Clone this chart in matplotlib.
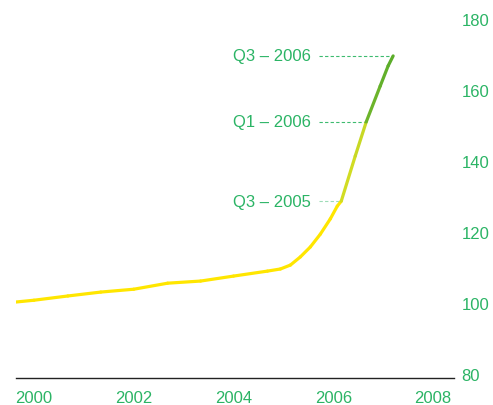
import numpy as np
import matplotlib
matplotlib.use("Agg")
import matplotlib.pyplot as plt
from matplotlib.collections import LineCollection
from matplotlib.colors import to_rgb

plt.rcParams['font.family'] = ['Liberation Sans', 'DejaVu Sans']

# Data
years = [1999.64, 2000.0, 2000.68, 2001.34, 2002.0, 2002.68, 2003.34, 2004.0,
         2004.68, 2004.94, 2005.14, 2005.34, 2005.54, 2005.74, 2005.94, 2006.08,
         2006.16, 2006.44, 2006.66, 2006.94, 2007.10, 2007.20]
values = [100.3, 100.8, 102.0, 103.1, 103.9, 105.6, 106.2, 107.6,
          109.0, 109.6, 110.7, 113.0, 115.8, 119.4, 123.7, 127.3,
          128.7, 141.4, 151.0, 161.1, 166.8, 169.6]
ann_labels = ["Q3 \u2013 2005", "Q1 \u2013 2006", "Q3 \u2013 2006"]
ann_x = [2006.16, 2006.66, 2007.20]
ann_y = [128.7, 151.0, 169.6]
ytick_vals = [80, 100, 120, 140, 160, 180]
xtick_vals = [2000, 2002, 2004, 2006, 2008]

GREEN_TXT = '#2bb465'
W, H = 493, 406
fig = plt.figure(figsize=(W / 100, H / 100), dpi=100)
ax = fig.add_axes([16 / W, 1 - 379 / H, (454 - 16) / W, (379 - 20) / H])
ax.set_xlim(1999.64, 2008.42)
ax.set_ylim(78.9, 180)

# segment colours
x = np.array(years)
y = np.array(values)
yellow = np.array(to_rgb('#ffe600'))
ygreen = np.array(to_rgb('#d6de22'))
ygreen2 = np.array(to_rgb('#c4d624'))
green1 = np.array(to_rgb('#72b72c'))
green2 = np.array(to_rgb('#5aac2a'))
cols = []
for i in range(len(x) - 1):
    xm = (x[i] + x[i + 1]) / 2
    if xm < ann_x[0]:
        cols.append(yellow)
    elif xm < ann_x[1]:
        t = (xm - ann_x[0]) / (ann_x[1] - ann_x[0])
        cols.append(ygreen * (1 - t) + ygreen2 * t)
    else:
        t = (xm - ann_x[1]) / (ann_x[2] - ann_x[1])
        cols.append(green1 * (1 - t) + green2 * t)
segs = np.stack([np.column_stack([x[:-1], y[:-1]]), np.column_stack([x[1:], y[1:]])], axis=1)
lc = LineCollection(segs, colors=cols, linewidths=2.3, capstyle='round', joinstyle='round')
ax.add_collection(lc)

# annotations
dash_start = 2005.71
dash_cols = ['#9edcb7', '#3dbb6f', '#3dbb6f']
for lab, ax_, ay_, dc in zip(ann_labels, ann_x, ann_y, dash_cols):
    ax.plot([dash_start, ax_], [ay_, ay_], color=dc, lw=0.8, dashes=(3, 2), zorder=1)
    ax.text(dash_start - 0.15, ay_, lab, ha='right', va='center', fontsize=12, color=GREEN_TXT)

# axes styling
for s in ['top', 'left', 'right']:
    ax.spines[s].set_visible(False)
ax.spines['bottom'].set_color('#222222')
ax.spines['bottom'].set_linewidth(1.0)
ax.set_xticks(xtick_vals)
ax.set_xticklabels([str(v) for v in xtick_vals])
ax.set_yticks(ytick_vals)
ax.set_yticklabels([str(v) for v in ytick_vals])
ax.yaxis.tick_right()
ax.tick_params(axis='y', length=0, pad=5.5, labelsize=12, labelcolor=GREEN_TXT)
ax.tick_params(axis='x', length=0, pad=8.5, labelsize=12, labelcolor=GREEN_TXT)

fig.savefig('out.png', dpi=100)
